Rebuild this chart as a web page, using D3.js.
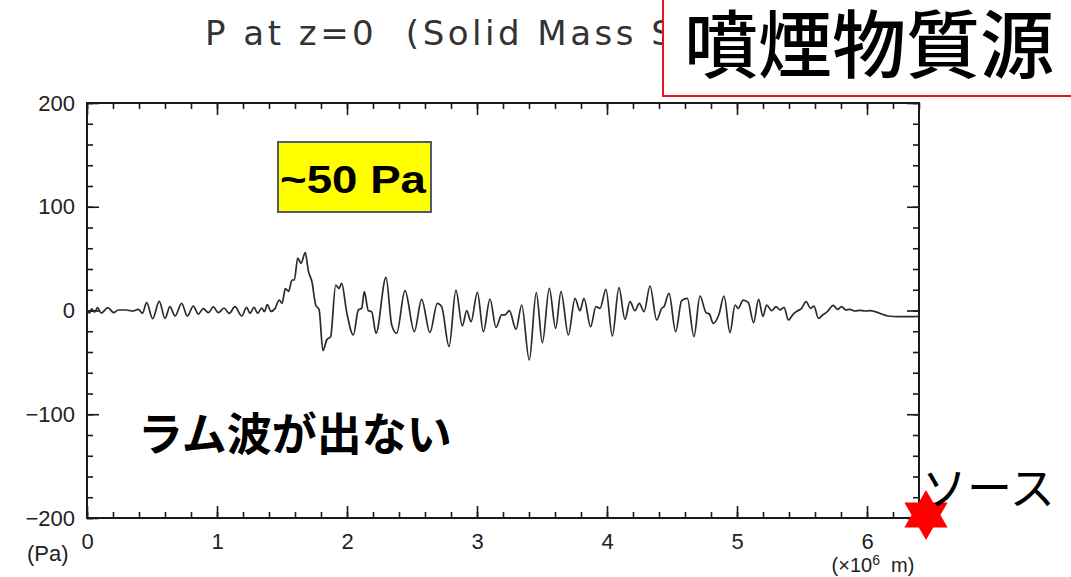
<!DOCTYPE html>
<html>
<head>
<meta charset="utf-8">
<script src="https://cdn.jsdelivr.net/npm/d3@7"></script>
<style>
  html, body { margin: 0; padding: 0; background: #fff; }
  svg { display: block; }
</style>
</head>
<body>
<svg id="chart" width="1071" height="577"></svg>
<script>
// Surface pressure along the ground, distance in 10^6 m, pressure in Pa
const distance = [
  0.000, 0.020, 0.035, 0.060, 0.080, 0.110, 0.160, 0.205, 0.240, 0.300,
  0.350, 0.395, 0.426, 0.459, 0.505, 0.556, 0.600, 0.638, 0.677, 0.728,
  0.772, 0.818, 0.856, 0.895, 0.933, 0.972, 1.010, 1.054, 1.095, 1.138,
  1.190, 1.228, 1.254, 1.285, 1.313, 1.344, 1.364, 1.387, 1.415, 1.446,
  1.479, 1.500, 1.526, 1.551, 1.577, 1.595, 1.621, 1.646, 1.679, 1.703,
  1.730, 1.760, 1.785, 1.815, 1.844, 1.874, 1.913, 1.938, 1.959, 1.997,
  2.049, 2.087, 2.113, 2.133, 2.164, 2.190, 2.223, 2.300, 2.344, 2.382,
  2.446, 2.518, 2.574, 2.638, 2.695, 2.728, 2.785, 2.838, 2.887, 2.921,
  2.954, 3.003, 3.049, 3.100, 3.146, 3.190, 3.215, 3.249, 3.300, 3.344,
  3.402, 3.456, 3.503, 3.556, 3.605, 3.646, 3.703, 3.754, 3.792, 3.823,
  3.874, 3.915, 3.946, 3.992, 4.041, 4.092, 4.138, 4.177, 4.215, 4.249,
  4.285, 4.331, 4.382, 4.421, 4.438, 4.477, 4.528, 4.574, 4.618, 4.669,
  4.715, 4.762, 4.787, 4.818, 4.862, 4.900, 4.946, 4.985, 5.010, 5.047,
  5.087, 5.128, 5.166, 5.200, 5.228, 5.267, 5.300, 5.331, 5.362, 5.395,
  5.433, 5.464, 5.497, 5.531, 5.567, 5.592, 5.626, 5.659, 5.695, 5.741,
  5.772, 5.805, 5.838, 5.869, 5.908, 5.946, 5.985, 6.023, 6.062, 6.113,
  6.164, 6.241, 6.318, 6.400
];
const pressure = [
  0.0, -2.5, 1.5, -1.5, 2.7, -2.5, 2.7, -2.0, 0.5, 0.5,
  -0.5, 1.1, -2.7, 7.5, -7.9, 8.8, -7.5, 3.7, -5.3, 6.9,
  -5.3, 4.3, -3.4, 1.8, -2.1, 3.4, -2.1, 2.4, -2.7, 3.7,
  -5.3, 3.0, -2.7, 3.0, -2.7, 2.4, -1.1, 5.6, -0.8, 1.8,
  10.1, 6.9, 21.0, 18.5, 29.4, 29.4, 50.6, 45.5, 55.7, 38.0,
  28.0, 5.0, 1.0, -38.7, -28.4, -25.2, 24.6, 21.3, 26.2, -1.1,
  -23.6, 0.5, 2.1, 18.1, -0.2, -1.1, -22.0, 31.9, -14.0, -22.0,
  19.1, -20.4, 10.8, -21.3, 6.9, 3.7, -34.8, 19.7, -14.9, -0.2,
  -10.8, 17.5, -20.4, 11.1, -16.2, -4.3, -4.3, -0.2, -18.1, 5.3,
  -47.7, 17.2, -31.0, 21.3, -17.2, 18.1, -23.6, 11.7, -0.2, 11.7,
  -15.6, 3.7, 2.1, 20.4, -24.6, 22.0, -8.5, 8.5, -0.2, 6.9,
  -1.1, 23.6, -9.1, 2.1, 3.7, 16.5, -20.4, 9.5, 11.7, -25.2,
  14.0, -2.1, -3.4, -12.4, -3.4, 14.0, -21.3, 5.3, 2.1, 10.0,
  7.5, -11.7, 10.8, -5.6, 5.3, -0.2, 3.7, 0.5, 3.0, -9.1,
  -3.4, -0.5, 2.1, 8.5, 2.1, 4.3, -7.5, -4.3, -1.1, 5.0,
  1.1, 3.7, 0.5, 1.1, -0.5, 0.2, -0.5, -0.2, -1.1, -3.4,
  -5.3, -5.9, -5.9, -5.6
];

// Axis ticks and labels
const xMajorTicks = [0, 1, 2, 3, 4, 5, 6];
const yMajorTicks = [-200, -100, 0, 100, 200];
const xDomain = [0, 6.4];
const yDomain = [-200, 200];
const sourceX = 6.4;   // position of the eruption source on the axis
const sourceY = -200;

const svg = d3.select("#chart");
const plotL = 87, plotR = 919, plotT = 103, plotB = 518;
const headBoxX = 663;

const x = d3.scaleLinear().domain(xDomain).range([plotL, plotR]);
const y = d3.scaleLinear().domain(yDomain).range([plotB, plotT]);

const xMinor = d3.range(0, 6.4001, 0.2).map(v => +v.toFixed(1));
const yMinor = d3.range(-200, 200.001, 20);

const tickColor = "#1a1a1a";
const labelFont = "'Liberation Sans', Arial, sans-serif";

function styleAxis(g) {
  g.select(".domain").remove();
  g.selectAll(".tick line").attr("stroke", tickColor).attr("stroke-width", 1.6);
  g.selectAll(".tick text")
    .attr("fill", "#222")
    .style("font-family", labelFont)
    .style("font-size", "22px");
}

// minor ticks on all four sides
svg.append("g").attr("transform", `translate(0,${plotB})`)
  .call(d3.axisBottom(x).tickValues(xMinor).tickSize(-6).tickFormat(""))
  .call(styleAxis);
svg.append("g").attr("transform", `translate(0,${plotT})`)
  .call(d3.axisTop(x).tickValues(xMinor).tickSize(-6).tickFormat(""))
  .call(styleAxis);
svg.append("g").attr("transform", `translate(${plotL},0)`)
  .call(d3.axisLeft(y).tickValues(yMinor).tickSize(-6).tickFormat(""))
  .call(styleAxis);
svg.append("g").attr("transform", `translate(${plotR},0)`)
  .call(d3.axisRight(y).tickValues(yMinor).tickSize(-6).tickFormat(""))
  .call(styleAxis);

// major ticks with labels
svg.append("g").attr("transform", `translate(0,${plotB})`)
  .call(d3.axisBottom(x).tickValues(xMajorTicks).tickSize(-12).tickPadding(15).tickFormat(d3.format("d")))
  .call(styleAxis);
svg.append("g").attr("transform", `translate(0,${plotT})`)
  .call(d3.axisTop(x).tickValues(xMajorTicks).tickSize(-12).tickFormat(""))
  .call(styleAxis);
svg.append("g").attr("transform", `translate(${plotL},0)`)
  .call(d3.axisLeft(y).tickValues(yMajorTicks).tickSize(-12).tickPadding(12).tickFormat(d3.format("d")))
  .call(styleAxis);
svg.append("g").attr("transform", `translate(${plotR},0)`)
  .call(d3.axisRight(y).tickValues(yMajorTicks).tickSize(-12).tickFormat(""))
  .call(styleAxis);

// plot frame
svg.append("rect")
  .attr("x", plotL).attr("y", plotT)
  .attr("width", plotR - plotL).attr("height", plotB - plotT)
  .attr("fill", "none").attr("stroke", tickColor).attr("stroke-width", 2);

// pressure trace
const series = distance.map((d, i) => ({ d, p: pressure[i] }));
const line = d3.line()
  .x(v => x(v.d))
  .y(v => y(v.p))
  .curve(d3.curveMonotoneX);
svg.append("path")
  .datum(series)
  .attr("d", line)
  .attr("fill", "none")
  .attr("stroke", "#2b2b2b")
  .attr("stroke-width", 1.7)
  .attr("stroke-linejoin", "round");

// axis unit labels
svg.append("text")
  .attr("x", 27).attr("y", 561)
  .attr("fill", "#222")
  .style("font-family", labelFont).style("font-size", "22px")
  .text("(Pa)");
const unitX = svg.append("text")
  .attr("x", 873).attr("y", 572)
  .attr("text-anchor", "middle")
  .attr("fill", "#222")
  .style("font-family", labelFont).style("font-size", "20px")
  .style("white-space", "pre");
unitX.append("tspan").text("(×10");
unitX.append("tspan").attr("dy", -7).style("font-size", "14px").text("6");
unitX.append("tspan").attr("dy", 7).text("  m)");

// title, partly hidden under the heading box
svg.append("defs").append("clipPath").attr("id", "title-clip")
  .append("rect").attr("x", 0).attr("y", 0).attr("width", headBoxX).attr("height", 100);
svg.append("text")
  .attr("clip-path", "url(#title-clip)")
  .attr("x", 205).attr("y", 45)
  .attr("fill", "#333")
  .style("font-family", "'DejaVu Sans', sans-serif")
  .style("font-size", "34px")
  .style("letter-spacing", "3.5px")
  .style("white-space", "pre")
  .text("P at z=0  (Solid Mass Source)");

// heading box over the right of the title
svg.append("rect")
  .attr("x", headBoxX).attr("y", -10)
  .attr("width", 430).attr("height", 106)
  .attr("fill", "#fff").attr("stroke", "#e8141c").attr("stroke-width", 2);
svg.append("text")
  .attr("x", 684).attr("y", 72)
  .attr("fill", "#000")
  .style("font-family", "'Noto Sans CJK JP', sans-serif")
  .style("font-size", "74px")
  .style("font-weight", 500)
  .text("噴煙物質源");

// amplitude callout
svg.append("rect")
  .attr("x", 278).attr("y", 142)
  .attr("width", 153).attr("height", 70)
  .attr("fill", "#ffff00").attr("stroke", "#4d5b6b").attr("stroke-width", 2);
svg.append("text")
  .attr("x", 280).attr("y", 193)
  .attr("textLength", 146).attr("lengthAdjust", "spacingAndGlyphs")
  .attr("fill", "#000")
  .style("font-family", labelFont)
  .style("font-size", "39px").style("font-weight", "bold")
  .text("~50 Pa");

// annotation
svg.append("text")
  .attr("x", 138).attr("y", 451)
  .attr("fill", "#000")
  .style("font-family", "'Noto Sans CJK JP', sans-serif")
  .style("font-size", "45px").style("font-weight", "bold")
  .text("ラム波が出ない");

// source marker: six-pointed star
const R = 25, r = R / Math.sqrt(3);
const starPts = d3.range(12).map(i => {
  const a = Math.PI / 2 + i * Math.PI / 6;
  const rad = i % 2 === 0 ? R : r;
  return [rad * Math.cos(a), -rad * Math.sin(a)];
});
svg.append("path")
  .attr("transform", `translate(${x(sourceX) + 7},${y(sourceY) - 3})`)
  .attr("d", d3.line()(starPts) + "Z")
  .attr("fill", "#ff0000");
svg.append("text")
  .attr("x", 922).attr("y", 505)
  .attr("fill", "#000")
  .style("font-family", "'Noto Sans CJK JP', sans-serif")
  .style("font-size", "45px")
  .text("ソース");
</script>
</body>
</html>
